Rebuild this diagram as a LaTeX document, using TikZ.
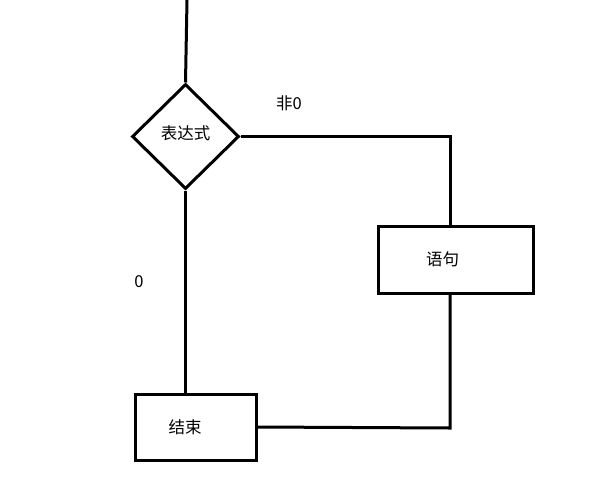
\documentclass[tikz,border=0pt]{standalone}
\usepackage{fontspec}
\setmainfont{Noto Sans CJK SC}
\usetikzlibrary{shapes.geometric}
\begin{document}
\begin{tikzpicture}[x=1pt,y=-1pt,
  line/.style={line width=3pt},
  boxnode/.style={draw,line width=3pt,rectangle,inner sep=0pt},
  lbl/.style={font=\fontsize{16.5}{19}\selectfont,inner sep=0pt}]
\useasboundingbox (0,0) rectangle (604,498);
\node[draw,line width=3pt,diamond,minimum width=107pt,minimum height=105pt,inner sep=0pt] (d) at (185.5,136.5) {};
\node[lbl] (dt) at (185.5,133) {表达式};
\node[boxnode,minimum width=155pt,minimum height=67pt] (s) at (455.5,259.5) {};
\node[lbl] (st) at (442.5,259) {语句};
\node[boxnode,minimum width=121pt,minimum height=66pt] (e) at (195.5,427) {};
\node[lbl] (et) at (185,427) {结束};
\node[lbl] (l1) at (289,103) {非0};
\node[lbl] (l0) at (139,282) {0};
\coordinate (top) at (187,0);
\coordinate (sn) at (450,226);
\coordinate (ss) at (450,293);
\coordinate (corner) at (450,428);
\draw[line] (top) -- (d.north);
\draw[line] (d.east) -| (sn);
\draw[line] (ss) -- (corner) -- (e.east);
\draw[line] (d.south) -- (e.north -| d.south);
\end{tikzpicture}
\end{document}
